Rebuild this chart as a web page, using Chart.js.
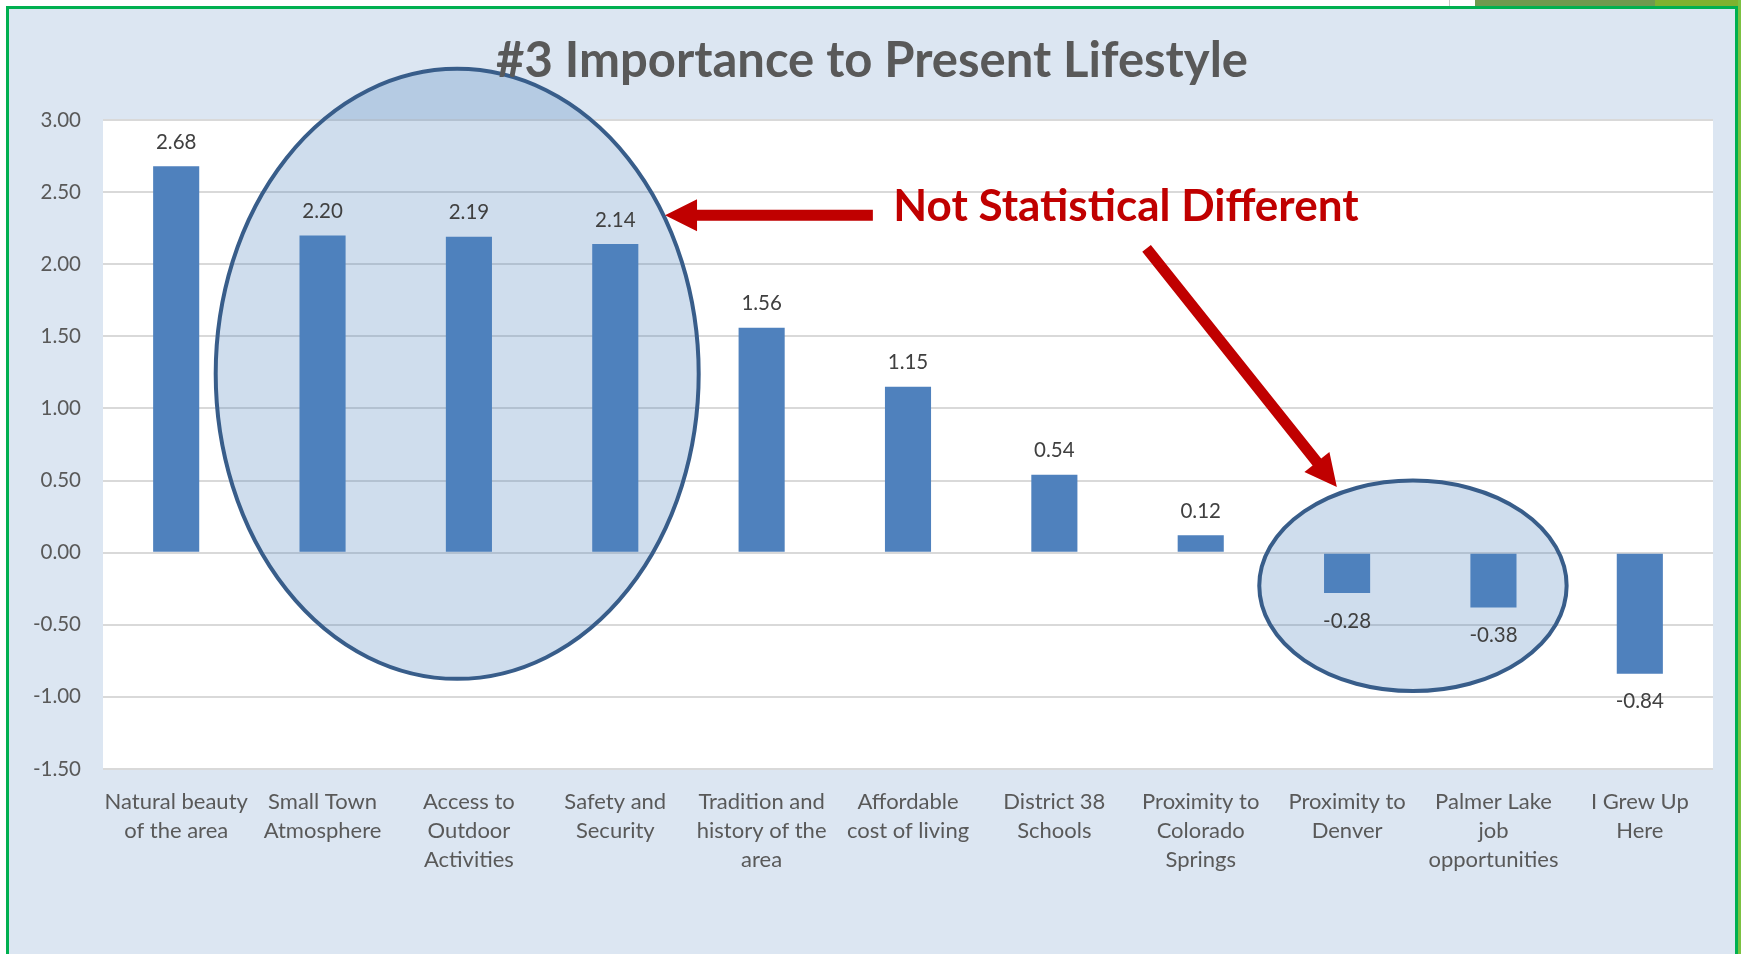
<!DOCTYPE html>
<html>
<head>
<meta charset="utf-8">
<title>#3 Importance to Present Lifestyle</title>
<script src="https://cdn.jsdelivr.net/npm/chart.js@4.4.0/dist/chart.umd.min.js"></script>
<style>
  html, body { margin: 0; padding: 0; background: #ffffff; overflow: hidden; }
  #wrap { position: absolute; left: 0; top: 0; width: 1741px; height: 954px; }
  #frame { position: absolute; left: 6px; top: 6px; width: 1732px; height: 970px; border: 3px solid #00b050; box-sizing: border-box; pointer-events: none; }
  #edge { position: absolute; left: 1738px; top: 0; width: 3px; height: 954px; background: #7cc242; }
  #tab1 { position: absolute; left: 1475px; top: 0; width: 180px; height: 6px; background: #6e9a4e; }
  #tab2 { position: absolute; left: 1655px; top: 0; width: 86px; height: 6px; background: #7fb22f; }
  #tabline { position: absolute; left: 1449px; top: 0; width: 1px; height: 6px; background: #c8c8c8; }
</style>
</head>
<body>
<div id="wrap">
  <canvas id="lifestyleChart" width="1741" height="954"></canvas>
  <div id="tabline"></div>
  <div id="tab1"></div>
  <div id="tab2"></div>
  <div id="edge"></div>
  <div id="frame"></div>
</div>
<script>
// chart data
const chartTitle = '#3 Importance to Present Lifestyle';
const categories = [
    ['Natural beauty', 'of the area'],
    ['Small Town', 'Atmosphere'],
    ['Access to', 'Outdoor', 'Activities'],
    ['Safety and', 'Security'],
    ['Tradition and', 'history of the', 'area'],
    ['Affordable', 'cost of living'],
    ['District 38', 'Schools'],
    ['Proximity to', 'Colorado', 'Springs'],
    ['Proximity to', 'Denver'],
    ['Palmer Lake', 'job', 'opportunities'],
    ['I Grew Up', 'Here']
];
const scores = [2.68, 2.20, 2.19, 2.14, 1.56, 1.15, 0.54, 0.12, -0.28, -0.38, -0.84];
const yMin = -1.5;
const yMax = 3;
const yStep = 0.5;

// call-outs, placed in axis units (x = category index, y = score)
const calloutText = 'Not Statistical Different';
const ellipses = [
    { cx: 1.92, cy: 1.24, rx: 1.65, ry: 2.115 },
    { cx: 8.45, cy: -0.23, rx: 1.05, ry: 0.73 }
];
const arrows = [
    { x1: 4.76, y1: 2.34, x2: 3.34, y2: 2.34 },
    { x1: 6.63, y1: 2.11, x2: 7.93, y2: 0.455 }
];

const textGrey = '#595959';
const barBlue = '#4f81bd';
const fontFam = 'Lato, "Open Sans", sans-serif';

function drawArrow(ctx, x1, y1, x2, y2) {
    const ang = Math.atan2(y2 - y1, x2 - x1);
    const headLen = 32, headHalf = 16, shaft = 11;
    const bx = x2 - Math.cos(ang) * headLen;
    const by = y2 - Math.sin(ang) * headLen;
    const nx = -Math.sin(ang), ny = Math.cos(ang);
    ctx.beginPath();
    ctx.moveTo(x1 + nx * shaft / 2, y1 + ny * shaft / 2);
    ctx.lineTo(bx + nx * shaft / 2, by + ny * shaft / 2);
    ctx.lineTo(bx + nx * headHalf, by + ny * headHalf);
    ctx.lineTo(x2, y2);
    ctx.lineTo(bx - nx * headHalf, by - ny * headHalf);
    ctx.lineTo(bx - nx * shaft / 2, by - ny * shaft / 2);
    ctx.lineTo(x1 - nx * shaft / 2, y1 - ny * shaft / 2);
    ctx.closePath();
    ctx.fill();
}

const decor = {
    id: 'decor',
    beforeDraw(chart) {
        const { ctx, chartArea: a } = chart;
        ctx.save();
        ctx.fillStyle = '#dce6f2';
        ctx.fillRect(9, 9, chart.width - 15, chart.height - 9);
        ctx.fillStyle = '#ffffff';
        ctx.fillRect(a.left, a.top, a.right - a.left, a.bottom - a.top);
        ctx.restore();
    },
    afterDatasetsDraw(chart) {
        const { ctx } = chart;
        const xs = chart.scales.x, ys = chart.scales.y;
        ctx.save();

        // shaded ellipses
        ellipses.forEach(e => {
            const cx = xs.getPixelForValue(e.cx);
            const cy = ys.getPixelForValue(e.cy);
            const rx = xs.getPixelForValue(e.cx + e.rx) - cx;
            const ry = cy - ys.getPixelForValue(e.cy + e.ry);
            ctx.beginPath();
            ctx.ellipse(cx, cy, rx, ry, 0, 0, Math.PI * 2);
            ctx.fillStyle = 'rgba(79,129,189,0.27)';
            ctx.fill();
            ctx.lineWidth = 4;
            ctx.strokeStyle = '#385d8a';
            ctx.stroke();
        });

        // value labels
        const meta = chart.getDatasetMeta(0);
        ctx.fillStyle = '#404040';
        ctx.font = '20.5px ' + fontFam;
        ctx.textAlign = 'center';
        ctx.textBaseline = 'middle';
        meta.data.forEach((bar, i) => {
            const v = scores[i];
            const y = v >= 0 ? bar.y - 24 : bar.y + 28;
            ctx.fillText(v.toFixed(2), bar.x, y);
        });

        // red arrows and note
        ctx.fillStyle = '#c00000';
        arrows.forEach(r => {
            drawArrow(ctx, xs.getPixelForValue(r.x1), ys.getPixelForValue(r.y1),
                xs.getPixelForValue(r.x2), ys.getPixelForValue(r.y2));
        });
        ctx.font = 'bold 44px ' + fontFam;
        ctx.textAlign = 'left';
        ctx.textBaseline = 'middle';
        ctx.fillText(calloutText, xs.getPixelForValue(4.90), ys.getPixelForValue(2.40));
        ctx.restore();
    },
    afterDraw(chart) {
        const { ctx } = chart;
        ctx.save();
        ctx.fillStyle = textGrey;
        ctx.font = 'bold 49px ' + fontFam;
        ctx.textAlign = 'center';
        ctx.textBaseline = 'alphabetic';
        ctx.fillText(chartTitle, 872, 77);
        ctx.restore();
    }
};

const ctx = document.getElementById('lifestyleChart').getContext('2d');
const chart = new Chart(ctx, {
    type: 'bar',
    data: {
        labels: categories,
        datasets: [{
            data: scores,
            backgroundColor: barBlue,
            borderWidth: 0,
            categoryPercentage: 1,
            barPercentage: 0.315
        }]
    },
    options: {
        responsive: false,
        animation: false,
        layout: { padding: { top: 120, right: 28, bottom: 0, left: 0 } },
        plugins: {
            legend: { display: false },
            tooltip: { enabled: false },
            title: { display: false }
        },
        scales: {
            x: {
                grid: { display: false, drawTicks: false },
                border: { display: false },
                ticks: {
                    color: textGrey,
                    font: { family: fontFam, size: 22, lineHeight: 1.32 },
                    padding: 18,
                    autoSkip: false,
                    maxRotation: 0,
                    minRotation: 0
                },
                afterFit(scale) { scale.height = 185; }
            },
            y: {
                min: yMin,
                max: yMax,
                grid: { color: '#d9d9d9', lineWidth: 2, drawTicks: false },
                border: { display: false },
                ticks: {
                    stepSize: yStep,
                    color: textGrey,
                    font: { family: fontFam, size: 20.5 },
                    padding: 22,
                    callback: v => v.toFixed(2)
                },
                afterFit(scale) { scale.width = 103; }
            }
        }
    },
    plugins: [decor]
});
</script>
</body>
</html>
